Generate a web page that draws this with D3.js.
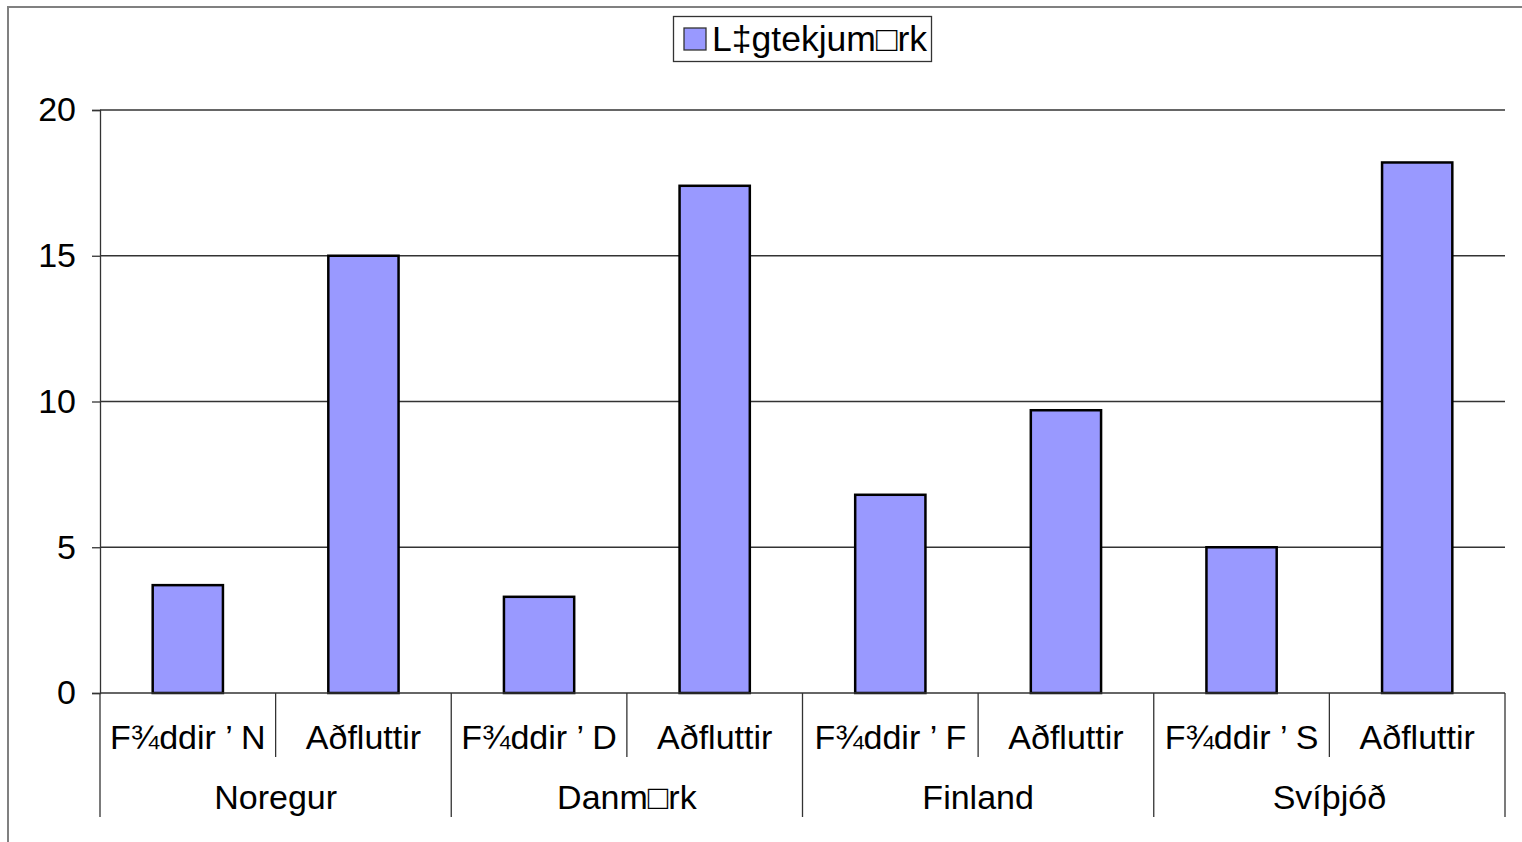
<!DOCTYPE html>
<html>
<head>
<meta charset="utf-8">
<script src="https://cdn.jsdelivr.net/npm/d3@7"></script>
<style>
  body { margin: 0; background: #fff; }
  svg { display: block; font-family: "Liberation Sans", Arial, sans-serif; }
</style>
</head>
<body>
<svg id="chart" width="1522" height="842"></svg>
<script>
// data
const groups = ["Noregur", "Danm\u25A1rk", "Finland", "Svíþjóð"];
const subLabels = ["F¾ddir \u2019 N", "Aðfluttir", "F¾ddir \u2019 D", "Aðfluttir",
                   "F¾ddir \u2019 F", "Aðfluttir", "F¾ddir \u2019 S", "Aðfluttir"];
const values = [3.7, 15.0, 3.3, 17.4, 6.8, 9.7, 5.0, 18.2];
const yTicks = [0, 5, 10, 15, 20];
const seriesName = "L\u2021gtekjum\u25A1rk";

const COLORS = { bar: "#9999ff", ink: "#000", frame: "#808080" };
const FS = 34;

const svg = d3.select("#chart");
const margin = { left: 100, right: 17, top: 110, bottom: 149 };
const W = 1522, H = 842;

// outer frame (runs past right and bottom edges)
svg.append("rect").attr("x", 8).attr("y", 7).attr("width", 1530).attr("height", 850)
  .attr("fill", "none").attr("stroke", COLORS.frame).attr("stroke-width", 2);

const idx = values.map((d, i) => i);
const x = d3.scaleBand().domain(idx).range([margin.left, W - margin.right]).padding(0);
const y = d3.scaleLinear().domain([0, 20]).range([H - margin.bottom, margin.top]);

// gridlines
svg.append("g").selectAll("line").data(yTicks.filter(d => d > 0)).join("line")
  .attr("x1", margin.left).attr("x2", W - margin.right)
  .attr("y1", d => y(d)).attr("y2", d => y(d))
  .attr("stroke", "#333").attr("stroke-width", 1.3);

// y axis
const yAxis = svg.append("g").attr("transform", `translate(${margin.left},0)`)
  .call(d3.axisLeft(y).tickValues(yTicks).tickSize(8).tickPadding(16));
yAxis.select(".domain").attr("stroke", "#333").attr("stroke-width", 1.3);
yAxis.selectAll(".tick line").attr("stroke", "#333").attr("stroke-width", 1.3);
yAxis.selectAll("text").attr("font-size", FS).attr("fill", COLORS.ink)
  .attr("font-family", "'Liberation Sans', Arial, sans-serif");

// bars
const bw = x.bandwidth() * 0.4;
svg.append("g").selectAll("rect").data(values).join("rect")
  .attr("x", (d, i) => x(i) + (x.bandwidth() - bw) / 2)
  .attr("y", d => y(d))
  .attr("width", bw)
  .attr("height", d => y(0) - y(d))
  .attr("fill", COLORS.bar).attr("stroke", COLORS.ink).attr("stroke-width", 2.5);

// x axis baseline
const y0 = y(0);
svg.append("line").attr("x1", margin.left).attr("x2", W - margin.right)
  .attr("y1", y0).attr("y2", y0).attr("stroke", "#333").attr("stroke-width", 1.3);

// separators: short between subcategories, long at group edges
const seps = d3.range(values.length + 1);
svg.append("g").selectAll("line").data(seps).join("line")
  .attr("x1", i => i < values.length ? x(i) : x.range()[1])
  .attr("x2", i => i < values.length ? x(i) : x.range()[1])
  .attr("y1", y0)
  .attr("y2", i => i % 2 === 0 ? y0 + 124 : y0 + 64)
  .attr("stroke", "#333").attr("stroke-width", 1.3);

// sub labels
svg.append("g").selectAll("text").data(subLabels).join("text")
  .attr("x", (d, i) => x(i) + x.bandwidth() / 2)
  .attr("y", y0 + 56)
  .attr("text-anchor", "middle").attr("font-size", FS).attr("fill", COLORS.ink)
  .text(d => d);

// group labels
svg.append("g").selectAll("text").data(groups).join("text")
  .attr("x", (d, i) => x(i * 2) + x.bandwidth())
  .attr("y", y0 + 116)
  .attr("text-anchor", "middle").attr("font-size", FS).attr("fill", COLORS.ink)
  .text(d => d);

// legend
const lg = svg.append("g");
lg.append("rect").attr("x", 673.5).attr("y", 16.5).attr("width", 258).attr("height", 45)
  .attr("fill", "#fff").attr("stroke", "#333").attr("stroke-width", 1.3);
lg.append("rect").attr("x", 684).attr("y", 28).attr("width", 22).attr("height", 22)
  .attr("fill", COLORS.bar).attr("stroke", "#333").attr("stroke-width", 1.3);
lg.append("text").attr("x", 712).attr("y", 51).attr("font-size", 35).attr("fill", COLORS.ink)
  .attr("textLength", 215).attr("lengthAdjust", "spacingAndGlyphs")
  .text(seriesName);
</script>
</body>
</html>
